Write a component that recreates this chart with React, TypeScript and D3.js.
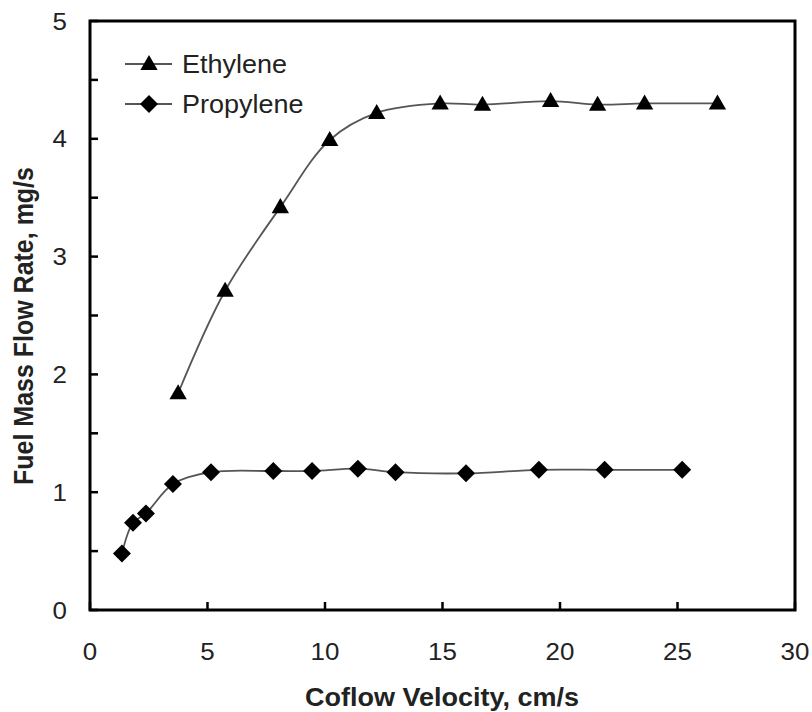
import React from "react";
import * as d3 from "d3";

const xTicks = [0, 5, 10, 15, 20, 25, 30];
const yTicks = [0, 1, 2, 3, 4, 5];
const yMinorTicks = [0.5, 1.5, 2.5, 3.5, 4.5];

const ethyleneX = [3.75, 5.75, 8.1, 10.2, 12.2, 14.9, 16.7, 19.6, 21.6, 23.6, 26.7];
const ethyleneY = [1.84, 2.71, 3.42, 3.99, 4.22, 4.30, 4.29, 4.32, 4.29, 4.30, 4.30];

const propyleneX = [1.36, 1.83, 2.38, 3.53, 5.15, 7.8, 9.45, 11.4, 13.0, 16.0, 19.1, 21.9, 25.2];
const propyleneY = [0.48, 0.74, 0.82, 1.07, 1.17, 1.18, 1.18, 1.20, 1.17, 1.16, 1.19, 1.19, 1.19];

const seriesNames = ["Ethylene", "Propylene"];

export default function App() {
  const W = 812, H = 712;
  const left = 90, right = 795, top = 21, bottom = 610;
  const x = d3.scaleLinear().domain([0, 30]).range([left, right]);
  const y = d3.scaleLinear().domain([0, 5]).range([bottom, top]);
  const line = d3.line<[number, number]>().x(d => x(d[0])).y(d => y(d[1])).curve(d3.curveCatmullRom.alpha(0.5));
  const eth: [number, number][] = ethyleneX.map((v, i) => [v, ethyleneY[i]]);
  const pro: [number, number][] = propyleneX.map((v, i) => [v, propyleneY[i]]);
  const tri = d3.symbol().type(d3.symbolTriangle).size(130)();
  const dia = (cx: number, cy: number, r = 9) => `M${cx},${cy - r}L${cx + r},${cy}L${cx},${cy + r}L${cx - r},${cy}Z`;
  const font = "Arial, 'Liberation Sans', sans-serif";
  const tickLen = 8;
  const sx = 1.08;
  return (
    <svg width={W} height={H} style={{ position: "absolute", left: 0, top: 0, background: "#fff" }} fontFamily={font}>
      <rect x={0} y={0} width={W} height={H} fill="#fff" />
      <path d={line(eth) || ""} fill="none" stroke="#555" strokeWidth={1.8} />
      <path d={line(pro) || ""} fill="none" stroke="#555" strokeWidth={1.8} />
      {eth.map((d, i) => (
        <path key={"e" + i} d={tri!} transform={`translate(${x(d[0])},${y(d[1]) + 1})`} fill="#000" />
      ))}
      {pro.map((d, i) => (
        <path key={"p" + i} d={dia(x(d[0]), y(d[1]))} fill="#000" />
      ))}
      <rect x={left} y={top} width={right - left} height={bottom - top} fill="none" stroke="#000" strokeWidth={3} />
      {yTicks.concat(yMinorTicks).map((t, i) => (
        <line key={"yt" + i} x1={left} x2={left + tickLen} y1={y(t)} y2={y(t)} stroke="#000" strokeWidth={2.5} />
      ))}
      {xTicks.map((t, i) => (
        <line key={"xt" + i} x1={x(t)} x2={x(t)} y1={bottom} y2={bottom - tickLen} stroke="#000" strokeWidth={2.5} />
      ))}
      {yTicks.map((t, i) => (
        <text key={"yl" + i} transform={`translate(67,${y(t)}) scale(${sx},1)`} textAnchor="end" dominantBaseline="central" fontSize={24} fill="#222">{t}</text>
      ))}
      {xTicks.map((t, i) => (
        <text key={"xl" + i} transform={`translate(${x(t)},651) scale(${sx},1)`} textAnchor="middle" dominantBaseline="central" fontSize={24} fill="#222">{t}</text>
      ))}
      <text transform={`translate(442,697) scale(${sx},1)`} textAnchor="middle" dominantBaseline="central" fontSize={25} fontWeight="bold" fill="#222">Coflow Velocity, cm/s</text>
      <text transform={`translate(24,326) rotate(-90) scale(1,${sx})`} textAnchor="middle" dominantBaseline="central" fontSize={25} fontWeight="bold" fill="#222">Fuel Mass Flow Rate, mg/s</text>
      {seriesNames.map((n, i) => {
        const ly = 64 + i * 40;
        return (
          <g key={n}>
            <line x1={125} x2={172} y1={ly} y2={ly} stroke="#555" strokeWidth={1.8} />
            {i === 0 ? (
              <path d={tri!} transform={`translate(149,${ly + 1})`} fill="#000" />
            ) : (
              <path d={dia(149, ly)} fill="#000" />
            )}
            <text transform={`translate(182,${ly}) scale(${sx},1)`} dominantBaseline="central" fontSize={25} fill="#222">{n}</text>
          </g>
        );
      })}
    </svg>
  );
}
